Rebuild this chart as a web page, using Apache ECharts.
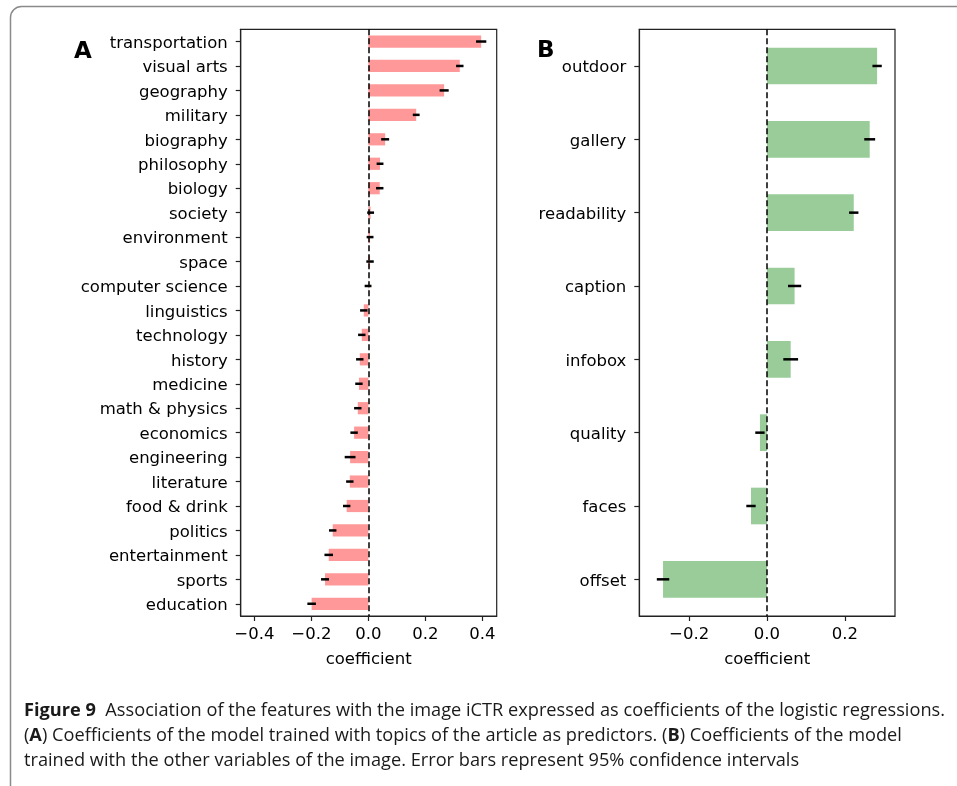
<!DOCTYPE html>
<html>
<head>
<meta charset="utf-8">
<script src="https://cdn.jsdelivr.net/npm/echarts@6/dist/echarts.min.js"></script>
<style>
  html, body { margin: 0; padding: 0; background: #fff; }
  #chart { width: 957px; height: 786px; }
</style>
</head>
<body>
<div id="chart"></div>
<script>
// Panel A: topic coefficients (top to bottom) with 95% CI half-widths
const topics = ['transportation', 'visual arts', 'geography', 'military', 'biography', 'philosophy',
  'biology', 'society', 'environment', 'space', 'computer science', 'linguistics', 'technology',
  'history', 'medicine', 'math & physics', 'economics', 'engineering', 'literature', 'food & drink',
  'politics', 'entertainment', 'sports', 'education'];
const topicCoef = [0.396, 0.321, 0.266, 0.168, 0.059, 0.041, 0.040, 0.008, 0.006, 0.006, -0.001,
  -0.016, -0.023, -0.030, -0.033, -0.037, -0.050, -0.064, -0.065, -0.076, -0.125, -0.139, -0.152, -0.199];
const topicCI = [0.018, 0.013, 0.016, 0.012, 0.014, 0.012, 0.013, 0.012, 0.012, 0.013, 0.012,
  0.013, 0.013, 0.013, 0.013, 0.013, 0.013, 0.019, 0.013, 0.013, 0.013, 0.015, 0.014, 0.015];

// Panel B: image-variable coefficients with 95% CI half-widths
const imageVars = ['outdoor', 'gallery', 'readability', 'caption', 'infobox', 'quality', 'faces', 'offset'];
const imageCoef = [0.283, 0.264, 0.223, 0.071, 0.061, -0.018, -0.041, -0.267];
const imageCI = [0.012, 0.014, 0.012, 0.017, 0.019, 0.012, 0.012, 0.016];

const ticksA = [-0.4, -0.2, 0, 0.2, 0.4];
const ticksB = [-0.2, 0, 0.2];

const captionLines = [
  '{b|Figure 9}{n|  Association of the features with the image iCTR expressed as coefficients of the logistic regressions.}',
  '{n|(}{b|A}{n|) Coefficients of the model trained with topics of the article as predictors. (}{b|B}{n|) Coefficients of the model}',
  '{n|trained with the other variables of the image. Error bars represent 95% confidence intervals}'
];

const FONT = 'DejaVu Sans';
const LABEL_SIZE = 16.5;
const CAP_SIZE = 18.5;
const fmt = v => (Math.abs(v) < 1e-9 ? 0 : v).toFixed(1).replace('-', '\u2212');

function errorBars(coef, ci) {
  return coef.map((v, i) => [v - ci[i], v + ci[i], i]);
}

function renderErr(params, api) {
  const a = api.coord([api.value(0), api.value(2)]);
  const b = api.coord([api.value(1), api.value(2)]);
  return {
    type: 'line',
    shape: { x1: a[0], y1: a[1], x2: b[0], y2: b[1] },
    style: { stroke: '#000', lineWidth: 2.5 }
  };
}

function valueAxis(gridIndex, min, max, ticks) {
  return {
    type: 'value', gridIndex, min, max,
    splitLine: { show: false },
    axisLine: { show: true, onZero: false, lineStyle: { color: '#222', width: 1.2 } },
    axisTick: { show: true, length: 5, customValues: ticks, lineStyle: { color: '#222', width: 1.2 } },
    axisLabel: { customValues: ticks, formatter: fmt, fontFamily: FONT, fontSize: LABEL_SIZE, color: '#000', margin: 10 },
    name: 'coefficient', nameLocation: 'middle', nameGap: 35,
    nameTextStyle: { fontFamily: FONT, fontSize: LABEL_SIZE, color: '#000' }
  };
}

function catAxis(gridIndex, cats) {
  return {
    type: 'category', gridIndex, data: cats, inverse: true,
    axisLine: { show: true, onZero: false, lineStyle: { color: '#222', width: 1.2 } },
    axisTick: { show: true, length: 5, alignWithLabel: true, lineStyle: { color: '#222', width: 1.2 } },
    // top-anchored with a short line box: the glyphs sit centred just under the tick
    axisLabel: { fontFamily: FONT, fontSize: LABEL_SIZE, color: '#000', margin: 13, interval: 0,
      verticalAlign: 'top', lineHeight: 4 }
  };
}

const zeroLine = {
  silent: true, symbol: 'none', label: { show: false },
  lineStyle: { color: '#000', type: [6, 3], width: 1.5 },
  data: [{ xAxis: 0 }]
};

const chart = echarts.init(document.getElementById('chart'), null, { renderer: 'canvas' });

// scale the caption horizontally so its first line spans the figure width
const ctx = document.createElement('canvas').getContext('2d');
ctx.font = 'bold ' + CAP_SIZE + 'px "Open Sans"';
let w1 = ctx.measureText('Figure 9').width;
ctx.font = CAP_SIZE + 'px "Open Sans"';
w1 += ctx.measureText('  Association of the features with the image iCTR expressed as coefficients of the logistic regressions.').width;
const capScale = 921 / w1;

const captionGraphics = captionLines.map((t, i) => ({
  type: 'text', left: 24, top: 701 + i * 25, scaleX: capScale, originX: 0,
  style: {
    text: t,
    rich: {
      b: { fontFamily: 'Open Sans', fontSize: CAP_SIZE, fontWeight: 'bold', fill: '#1a1a1a' },
      n: { fontFamily: 'Open Sans', fontSize: CAP_SIZE, fill: '#1a1a1a' }
    }
  }
}));

chart.setOption({
  animation: false,
  grid: [
    { left: 240.7, top: 29.3, width: 256, height: 586.7, show: true, borderColor: '#222', borderWidth: 1.2, containLabel: false },
    { left: 639.3, top: 29.3, width: 255.7, height: 586.7, show: true, borderColor: '#222', borderWidth: 1.2, containLabel: false }
  ],
  xAxis: [
    valueAxis(0, -0.448, 0.4505, ticksA),
    valueAxis(1, -0.328, 0.329, ticksB)
  ],
  yAxis: [
    catAxis(0, topics),
    catAxis(1, imageVars)
  ],
  series: [
    {
      type: 'bar', xAxisIndex: 0, yAxisIndex: 0, data: topicCoef, barWidth: '50%',
      itemStyle: { color: '#ff9999' }, markLine: zeroLine, z: 2
    },
    {
      type: 'custom', xAxisIndex: 0, yAxisIndex: 0, data: errorBars(topicCoef, topicCI),
      encode: { x: [0, 1], y: 2 }, renderItem: renderErr, z: 5
    },
    {
      type: 'bar', xAxisIndex: 1, yAxisIndex: 1, data: imageCoef, barWidth: '50%',
      itemStyle: { color: '#99cc99' }, markLine: zeroLine, z: 2
    },
    {
      type: 'custom', xAxisIndex: 1, yAxisIndex: 1, data: errorBars(imageCoef, imageCI),
      encode: { x: [0, 1], y: 2 }, renderItem: renderErr, z: 5
    }
  ],
  graphic: [
    {
      type: 'rect', silent: true,
      shape: { x: 10.5, y: 6.5, width: 990, height: 800, r: 11 },
      style: { fill: 'none', stroke: '#8a8a8a', lineWidth: 1.5 }
    },
    {
      type: 'text', left: 74, top: 41,
      style: { text: 'A', fontFamily: FONT, fontWeight: 'bold', fontSize: 23, fill: '#000' }
    },
    {
      type: 'text', left: 537, top: 40,
      style: { text: 'B', fontFamily: FONT, fontWeight: 'bold', fontSize: 23, fill: '#000' }
    }
  ].concat(captionGraphics)
});
</script>
</body>
</html>
